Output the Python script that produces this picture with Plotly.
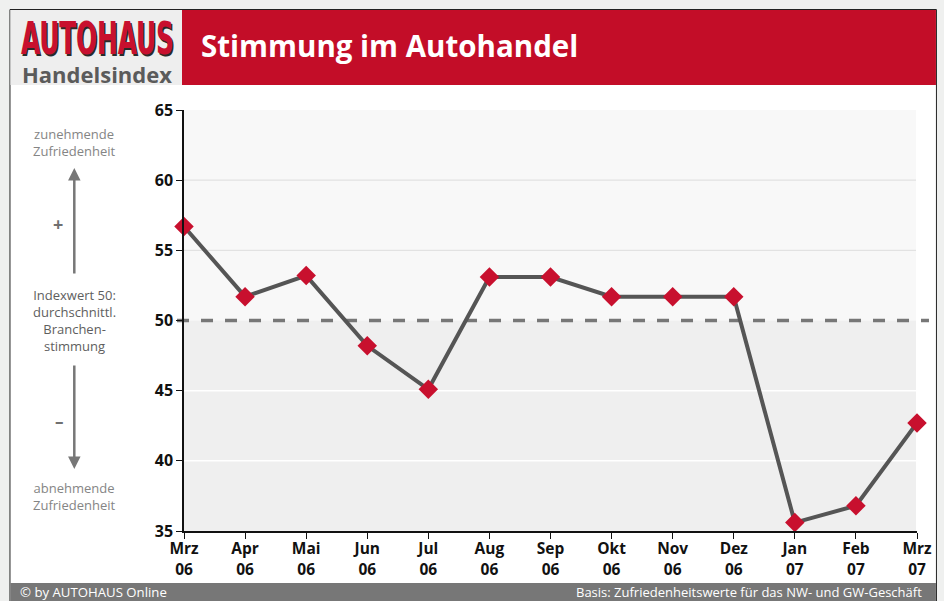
import plotly.graph_objects as go

months = ["Mrz", "Apr", "Mai", "Jun", "Jul", "Aug", "Sep", "Okt", "Nov", "Dez", "Jan", "Feb", "Mrz"]
years = ["06", "06", "06", "06", "06", "06", "06", "06", "06", "06", "07", "07", "07"]
index_values = [56.7, 51.7, 53.2, 48.2, 45.1, 53.1, 53.1, 51.7, 51.7, 51.7, 35.6, 36.8, 42.7]
y_ticks = [35, 40, 45, 50, 55, 60, 65]

W, H = 944, 601
L, R, T, B = 184, 919, 110, 531


def px(x):
    return (x - L) / (R - L)


def py(y):
    return (B - y) / (B - T)


xs = list(range(len(months)))
ticktext = [f"<b>{m}</b><br><b>{y}</b>" for m, y in zip(months, years)]

fig = go.Figure()
fig.add_trace(go.Scatter(
    x=xs, y=index_values, mode="lines+markers",
    line=dict(color="#555555", width=4),
    marker=dict(symbol="diamond", size=15, color="#c8102e", line=dict(width=0)),
    hoverinfo="skip", showlegend=False, cliponaxis=False,
))

PX_END = px(918)
shapes = []
# outer white box
shapes.append(dict(type="rect", xref="paper", yref="paper", x0=px(9.5), x1=px(938.5), y0=py(612), y1=py(9.5),
                   fillcolor="white", line=dict(color="#222222", width=1), layer="below"))
# header logo area
shapes.append(dict(type="rect", xref="paper", yref="paper", x0=px(10), x1=px(182), y0=py(85), y1=py(10),
                   fillcolor="#eeeeee", line=dict(width=0), layer="below"))
# header red band
shapes.append(dict(type="rect", xref="paper", yref="paper", x0=px(182), x1=px(938), y0=py(85), y1=py(10),
                   fillcolor="#c30d28", line=dict(width=0), layer="below"))
# footer band
shapes.append(dict(type="rect", xref="paper", yref="paper", x0=px(10), x1=px(938), y0=py(601), y1=py(583),
                   fillcolor="#777777", line=dict(width=0), layer="below"))
# plot shading
shapes.append(dict(type="rect", xref="paper", yref="y", x0=0, x1=PX_END, y0=50, y1=65,
                   fillcolor="#f8f8f8", line=dict(width=0), layer="below"))
shapes.append(dict(type="rect", xref="paper", yref="y", x0=0, x1=PX_END, y0=35, y1=50,
                   fillcolor="#efefef", line=dict(width=0), layer="below"))
# grid lines
for v in [55, 60]:
    shapes.append(dict(type="line", xref="paper", yref="y", x0=0, x1=PX_END, y0=v, y1=v,
                       line=dict(color="#e2e2e2", width=1.2), layer="below"))
for v in [40, 45]:
    shapes.append(dict(type="line", xref="paper", yref="y", x0=0, x1=PX_END, y0=v, y1=v,
                       line=dict(color="#ffffff", width=1.5), layer="below"))
# reference line at 50
shapes.append(dict(type="line", xref="paper", yref="y", x0=px(177), x1=px(931), y0=50, y1=50,
                   line=dict(color="#777777", width=3.5, dash="12px,12px"), layer="below"))

FONT = "Open Sans, Noto Sans, DejaVu Sans, sans-serif"
ann = []
# logo
ann.append(dict(text="<b>AUTOHAUS</b>", xref="paper", yref="paper", x=px(97), y=py(38.5), xanchor="center",
                yanchor="middle", showarrow=False,
                font=dict(family="DejaVu Sans Condensed, Liberation Sans Narrow, sans-serif",
                          size=45, color="#c8102e", shadow="2px 2px 0px #2a2a2a")))
ann.append(dict(text="<b>Handelsindex</b>", xref="paper", yref="paper", x=px(97), y=py(73.5), xanchor="center",
                yanchor="middle", showarrow=False, font=dict(family=FONT, size=22, color="#5b5b5b")))
ann.append(dict(text="<b>Stimmung im Autohandel</b>", xref="paper", yref="paper", x=px(199), y=py(46),
                xanchor="left", yanchor="middle", showarrow=False, font=dict(family=FONT, size=29.5, color="white")))
# left side explanation
ann.append(dict(text="zunehmende<br>Zufriedenheit", xref="paper", yref="paper", x=px(74), y=py(142),
                xanchor="center", yanchor="middle", showarrow=False,
                font=dict(family=FONT, size=13, color="#858585")))
ann.append(dict(text="Indexwert 50:<br>durchschnittl.<br>Branchen-<br>stimmung", xref="paper", yref="paper",
                x=px(74), y=py(320), xanchor="center", yanchor="middle", showarrow=False,
                font=dict(family=FONT, size=13, color="#5e5e5e")))
ann.append(dict(text="abnehmende<br>Zufriedenheit", xref="paper", yref="paper", x=px(74), y=py(496),
                xanchor="center", yanchor="middle", showarrow=False,
                font=dict(family=FONT, size=13, color="#858585")))
ann.append(dict(text="<b>+</b>", xref="paper", yref="paper", x=px(58), y=py(224), xanchor="center", yanchor="middle",
                showarrow=False, font=dict(family=FONT, size=18, color="#707070")))
ann.append(dict(text="<b>–</b>", xref="paper", yref="paper", x=px(59), y=py(421), xanchor="center", yanchor="middle",
                showarrow=False, font=dict(family=FONT, size=17, color="#707070")))
# arrows
ann.append(dict(text="", xref="paper", yref="paper", x=px(74), y=py(168), ax=0, ay=107, showarrow=True,
                arrowhead=2, arrowsize=1, arrowwidth=2.5, arrowcolor="#777777"))
ann.append(dict(text="", xref="paper", yref="paper", x=px(74), y=py(469), ax=0, ay=-105, showarrow=True,
                arrowhead=2, arrowsize=1, arrowwidth=2.5, arrowcolor="#777777"))
# footer texts
ann.append(dict(text="© by AUTOHAUS Online", xref="paper", yref="paper", x=px(18), y=py(592), xanchor="left",
                yanchor="middle", showarrow=False, font=dict(family=FONT, size=13.2, color="white")))
ann.append(dict(text="Basis: Zufriedenheitswerte für das NW- und GW-Geschäft", xref="paper", yref="paper",
                x=px(926), y=py(592), xanchor="right", yanchor="middle", showarrow=False,
                font=dict(family=FONT, size=13, color="white")))

fig.update_layout(
    width=W, height=H,
    margin=dict(l=L, r=W - R, t=T, b=H - B, pad=0),
    paper_bgcolor="#eff0ef", plot_bgcolor="rgba(0,0,0,0)",
    shapes=shapes, annotations=ann,
    font=dict(family=FONT, color="#111111"),
    xaxis=dict(range=[0, 12], tickmode="array", tickvals=xs, ticktext=ticktext,
               showgrid=False, zeroline=False, showline=True, linecolor="#111111", linewidth=1.5,
               ticks="outside", ticklen=6, tickcolor="#111111", tickfont=dict(size=15.5, color="#111111"),
               ticklabelstandoff=-3, fixedrange=True),
    yaxis=dict(range=[35, 65], tickmode="array", tickvals=y_ticks, ticktext=[f"<b>{v}</b>" for v in y_ticks],
               showgrid=False, zeroline=False, showline=True, linecolor="#111111", linewidth=1.5,
               ticks="outside", ticklen=6, tickcolor="#111111", tickfont=dict(size=16, color="#111111"),
               fixedrange=True),
)

post = """
document.body.style.margin = '0';
document.body.style.padding = '0';
document.body.style.background = '#eff0ef';
var gd = document.getElementById('{plot_id}');
gd.querySelectorAll('text.annotation-text').forEach(function (t) {
  if (t.textContent === 'AUTOHAUS') {
    t.style.transformBox = 'fill-box';
    t.style.transformOrigin = 'center';
    t.style.transform = 'scaleX(0.61)';
  }
});
"""

fig.write_html("out.html", post_script=post, config={"displayModeBar": False})
